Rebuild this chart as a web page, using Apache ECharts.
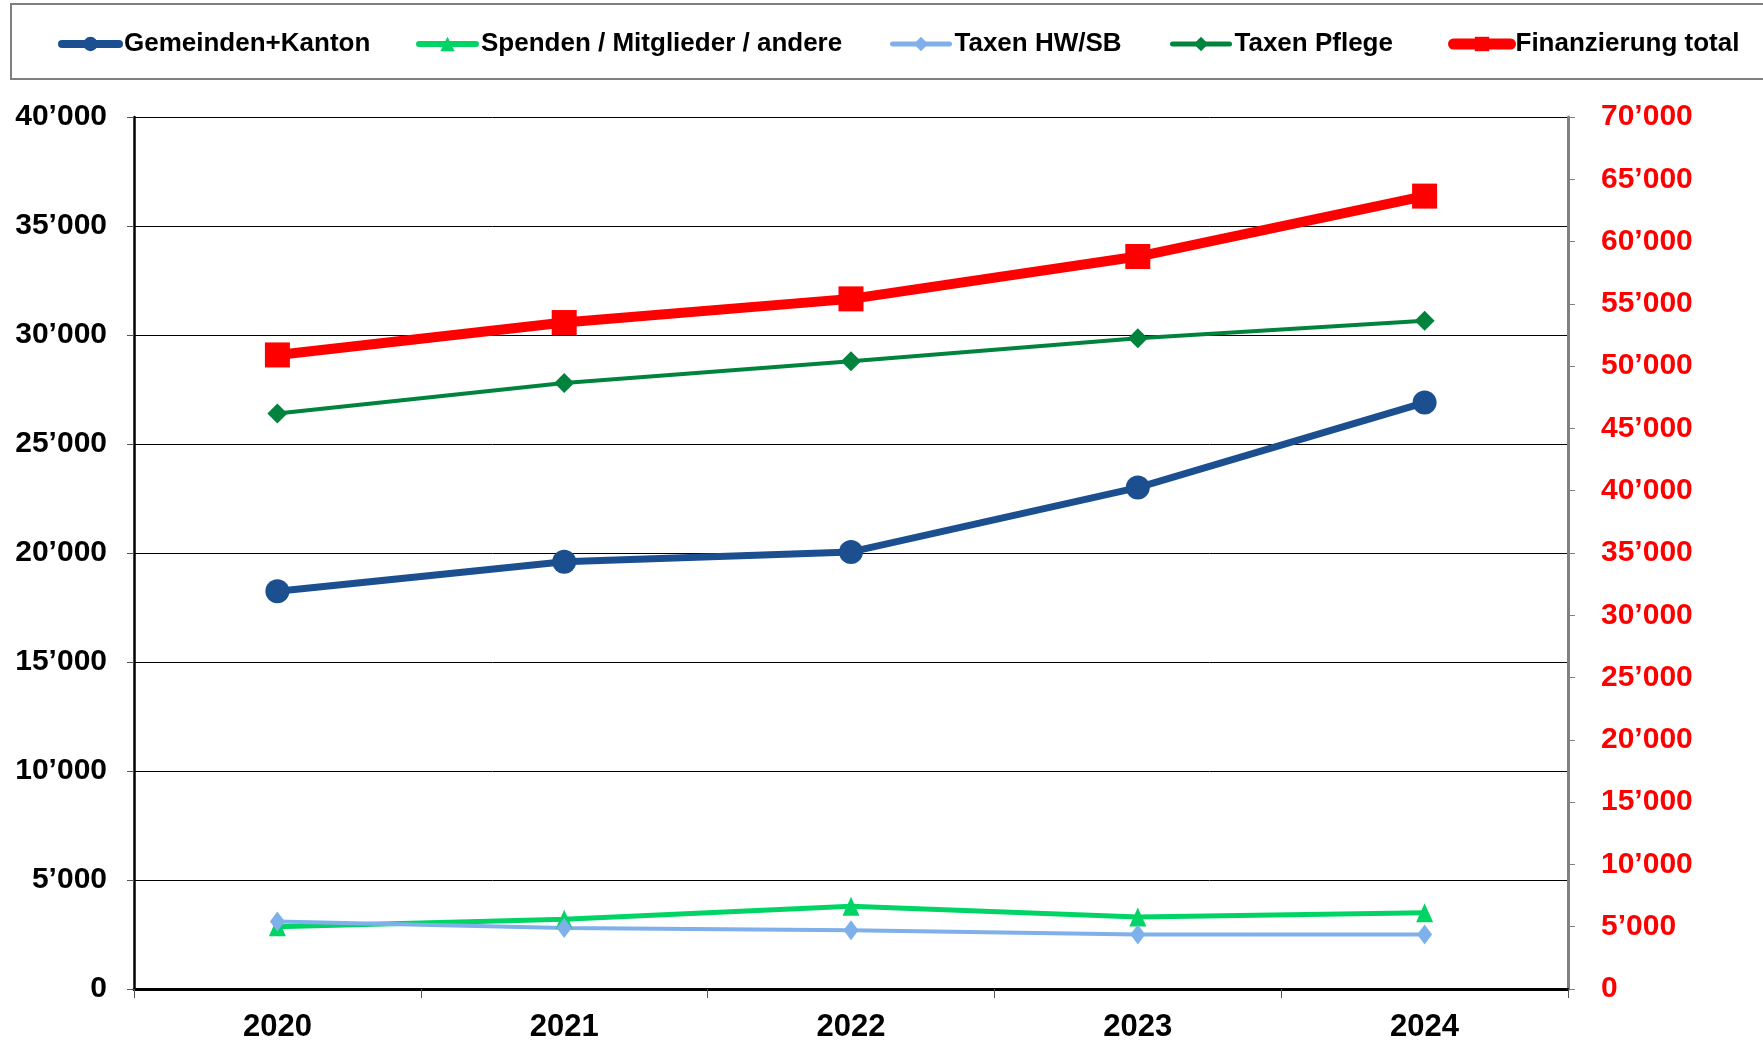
<!DOCTYPE html>
<html>
<head>
<meta charset="utf-8">
<script src="https://cdn.jsdelivr.net/npm/echarts@6/dist/echarts.min.js"></script>
<style>
  html, body { margin: 0; padding: 0; background: #fff; }
  #chart { width: 1763px; height: 1043px; }
</style>
</head>
<body>
<div id="chart"></div>
<script>
// Jahre und Werte
const years = ['2020', '2021', '2022', '2023', '2024'];
const gemeindenKanton = [18250, 19600, 20050, 23000, 26900];
const spenden = [2850, 3200, 3800, 3300, 3500];
const taxenHwSb = [3100, 2800, 2700, 2500, 2500];
const taxenPflege = [26400, 27800, 28800, 29850, 30650];
const finanzierungTotal = [50900, 53500, 55400, 58800, 63650];

const seriesNames = ['Gemeinden+Kanton', 'Spenden / Mitglieder / andere', 'Taxen HW/SB', 'Taxen Pflege', 'Finanzierung total'];
const seriesColors = ['#1b4f8f', '#00d465', '#7fb0ea', '#00843d', '#ff0000'];
const lineWidths = [7, 5, 4, 4, 10];
const legendLeft = [58, 416, 890, 1170, 1448];

const FONT = '"Liberation Sans", Arial, sans-serif';

// 40000 -> 40’000
const fmt = (v) => String(v).replace(/\B(?=(\d{3})+(?!\d))/g, '\u2019');

const chart = echarts.init(document.getElementById('chart'));

const legends = seriesNames.map((name, i) => ({
  data: [name],
  left: legendLeft[i],
  top: 31,
  padding: 0,
  itemWidth: 57,
  itemHeight: 18,
  itemGap: 0,
  selectedMode: false,
  lineStyle: { width: lineWidths[i] + 1, cap: 'round' },
  textStyle: { fontFamily: FONT, fontSize: 26, fontWeight: 'bold', color: '#000' },
}));

const option = {
  animation: false,
  backgroundColor: '#fff',
  legend: legends,
  graphic: [
    {
      type: 'rect',
      shape: { x: 11, y: 4, width: 1800, height: 75 },
      style: { fill: 'none', stroke: '#7f7f7f', lineWidth: 2 },
      z: -1,
    },
  ],
  grid: { left: 134, right: 195, top: 117, bottom: 53 },
  xAxis: {
    type: 'category',
    data: years,
    boundaryGap: true,
    axisLine: { lineStyle: { color: '#000', width: 3 } },
    axisTick: { show: true, alignWithLabel: false, length: 9, lineStyle: { color: '#555', width: 1 } },
    axisLabel: { margin: 23, fontFamily: FONT, fontSize: 31, fontWeight: 'bold', color: '#000' },
  },
  yAxis: [
    {
      type: 'value',
      min: 0,
      max: 40000,
      interval: 5000,
      position: 'left',
      axisLine: { show: true, lineStyle: { color: '#000', width: 2.5 } },
      axisTick: { show: true, length: 7, lineStyle: { color: '#555' } },
      splitLine: { show: true, lineStyle: { color: '#000', width: 1 } },
      axisLabel: { margin: 27, formatter: fmt, fontFamily: FONT, fontSize: 30, fontWeight: 'bold', color: '#000' },
    },
    {
      type: 'value',
      min: 0,
      max: 70000,
      interval: 5000,
      position: 'right',
      axisLine: { show: true, lineStyle: { color: '#808080', width: 3 } },
      axisTick: { show: true, length: 7, lineStyle: { color: '#808080' } },
      splitLine: { show: false },
      axisLabel: { margin: 33, formatter: fmt, fontFamily: FONT, fontSize: 30, fontWeight: 'bold', color: '#ff0000' },
    },
  ],
  series: [
    {
      name: seriesNames[0],
      type: 'line',
      data: gemeindenKanton,
      symbol: 'circle',
      symbolSize: 24,
      color: seriesColors[0],
      lineStyle: { width: lineWidths[0], color: seriesColors[0] },
      itemStyle: { color: seriesColors[0] },
    },
    {
      name: seriesNames[1],
      type: 'line',
      data: spenden,
      symbol: 'triangle',
      symbolSize: [17, 19],
      color: seriesColors[1],
      lineStyle: { width: lineWidths[1], color: seriesColors[1] },
      itemStyle: { color: seriesColors[1] },
    },
    {
      name: seriesNames[2],
      type: 'line',
      data: taxenHwSb,
      symbol: 'diamond',
      symbolSize: [15, 20],
      color: seriesColors[2],
      lineStyle: { width: lineWidths[2], color: seriesColors[2] },
      itemStyle: { color: seriesColors[2] },
    },
    {
      name: seriesNames[3],
      type: 'line',
      data: taxenPflege,
      symbol: 'diamond',
      symbolSize: 20,
      color: seriesColors[3],
      lineStyle: { width: lineWidths[3], color: seriesColors[3] },
      itemStyle: { color: seriesColors[3] },
    },
    {
      name: seriesNames[4],
      type: 'line',
      yAxisIndex: 1,
      data: finanzierungTotal,
      symbol: 'rect',
      symbolSize: 25,
      color: seriesColors[4],
      lineStyle: { width: lineWidths[4], color: seriesColors[4] },
      itemStyle: { color: seriesColors[4] },
    },
  ],
};

chart.setOption(option);
</script>
</body>
</html>
